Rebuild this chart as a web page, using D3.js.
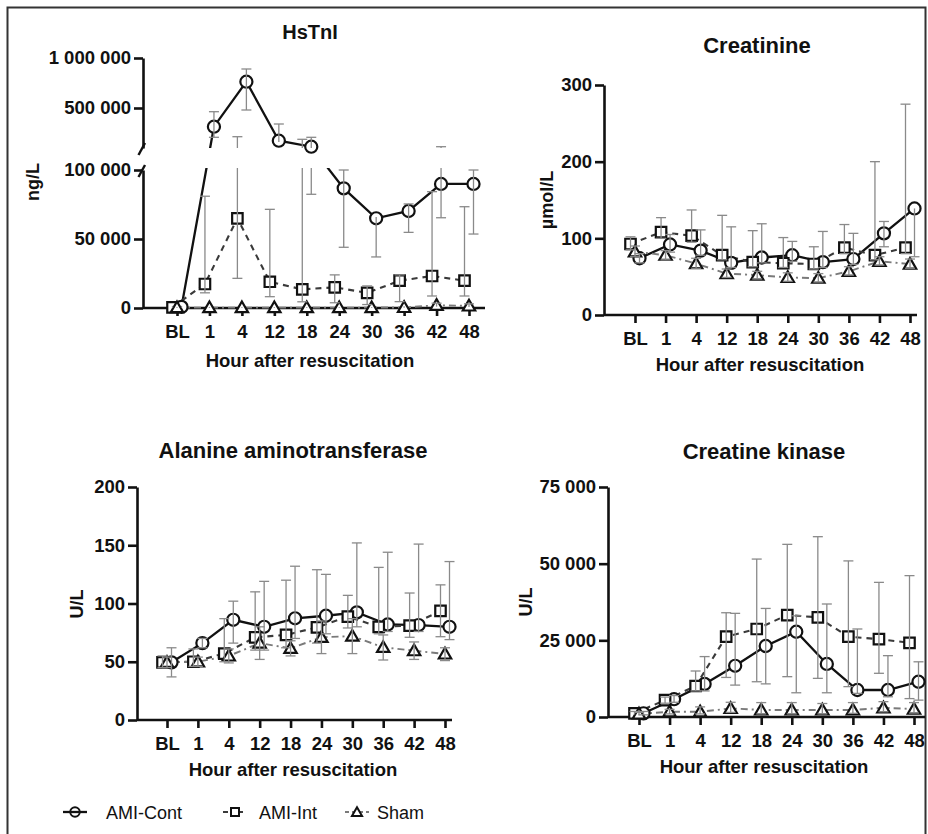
<!DOCTYPE html>
<html>
<head>
<meta charset="utf-8">
<script src="https://cdn.jsdelivr.net/npm/d3@7"></script>
<style>
  body { margin: 0; background: #fff; }
  svg text { font-family: "Liberation Sans", Arial, sans-serif; }
</style>
</head>
<body>
<svg id="chart" width="928" height="834"></svg>
<script>
const hours = ["BL", "1", "4", "12", "18", "24", "30", "36", "42", "48"];
const groups = ["AMI-Cont", "AMI-Int", "Sham"];

// HsTnI, ng/L (mean, upper and lower end of error bar)
const tnCont   = [800, 313000, 763000, 173000, 113000, 86700, 65000, 70300, 89900, 89900];
const tnContHi = [1500, 463000, 890000, 340000, 207000, 100000, 66000, 75400, 113000, 100000];
const tnContLo = [300, 207000, 480000, 160000, 82400, 44000, 37000, 54800, 65400, 53600];
const tnInt    = [500, 17400, 65000, 19000, 13500, 15000, 11000, 19800, 23200, 19800];
const tnIntHi  = [1500, 81000, 213000, 71500, 187000, 24000, 16000, 24000, 84300, 73400];
const tnIntLo  = [200, 11000, 21500, 8200, 4500, 3800, 2500, 4600, 8700, 8700];
const tnSham   = [300, 300, 300, 300, 300, 300, 300, 400, 2000, 1500];
const tnShamHi = [800, 800, 800, 800, 800, 800, 800, 1200, 3500, 3000];
const tnShamLo = [100, 100, 100, 100, 100, 100, 100, 200, 1000, 800];

// Creatinine, umol/L
const crCont   = [74, 92, 84, 68, 75, 78, 69, 73, 106.5, 139];
const crContHi = [80, 105, 111, 115, 119, 96, 109, 106.5, 122, 139];
const crContLo = [68, 82, 78, 62, 68, 70, 62, 66, 89, 76];
const crInt    = [92.6, 108, 103.5, 78, 69, 67.5, 66.5, 88, 78, 88];
const crIntHi  = [102, 127, 137, 130, 110, 101, 89, 118, 200, 275];
const crIntLo  = [85, 100, 95, 72, 63, 62, 60, 80, 72, 80];
const crSham   = [82.5, 78, 67, 54, 52, 49, 48, 57, 70, 66.5];
const crShamHi = [90, 84, 74, 60, 57, 55, 54, 63, 76, 73];
const crShamLo = [76, 72, 61, 49, 47, 44, 43, 52, 65, 61];

// Alanine aminotransferase, U/L
const altCont   = [49.5, 66, 86, 80, 87.3, 89.5, 92.4, 82, 81.5, 80];
const altContHi = [62, 70, 102, 119, 132, 125, 152, 144, 151, 136];
const altContLo = [37, 62, 66, 60, 70, 74, 80, 76, 76, 69];
const altInt    = [49.5, 50, 57, 71, 73, 79.5, 88.7, 80, 81, 93.6];
const altIntHi  = [55, 61, 87, 110, 120, 129, 107, 131, 109, 116];
const altIntLo  = [45, 46, 50, 60, 62, 66, 79, 74, 71, 71.5];
const altSham   = [49.5, 50, 55, 66, 61.5, 71, 72, 62.4, 59.5, 56.7];
const altShamHi = [54, 54, 61, 80, 68, 85, 87, 73, 67, 62];
const altShamLo = [45, 46, 49, 52, 55, 57, 57, 51.5, 52, 51];

// Creatine kinase, U/L
const ckCont   = [1200, 5800, 10800, 16700, 23150, 27800, 17300, 8800, 8800, 11500];
const ckContHi = [1800, 7000, 19700, 33800, 35400, 33000, 36850, 28700, 20000, 18000];
const ckContLo = [700, 4800, 8500, 10400, 10800, 7900, 7900, 7700, 6600, 5500];
const ckInt    = [1200, 5500, 10100, 26200, 28700, 33250, 32500, 26200, 25400, 24200];
const ckIntHi  = [1800, 6500, 15000, 34000, 51500, 56300, 58800, 50900, 43900, 46100];
const ckIntLo  = [800, 4500, 8500, 12900, 11500, 13150, 12600, 9900, 14250, 6000];
const ckSham   = [1000, 1700, 1700, 2800, 2300, 2300, 2300, 2300, 3000, 2600];
const ckShamHi = [1500, 2500, 3300, 4800, 4700, 4700, 4400, 4700, 5000, 4700];
const ckShamLo = [600, 1000, 1000, 1500, 1000, 1000, 1000, 1200, 1700, 1300];

const styles = [
  {name: groups[0], stroke: "#111", width: 2.3, dash: null, symbol: d3.symbolCircle, size: 115, dx: 4.5, legendSize: 70},
  {name: groups[1], stroke: "#3a3a3a", width: 2.1, dash: "6,5", symbol: d3.symbolSquare, size: 110, dx: -4.5, legendSize: 64},
  {name: groups[2], stroke: "#7a7a7a", width: 1.9, dash: "7,4,2,4", symbol: d3.symbolTriangle, size: 66, dx: 0, legendSize: 44}
];

const fmt = v => d3.format(",")(v).replace(/,/g, " ");
const svg = d3.select("#chart");

svg.append("rect")
   .attr("x", 7.5).attr("y", 7.5)
   .attr("width", 918).attr("height", 860)
   .attr("fill", "none")
   .attr("stroke", "#333")
   .attr("stroke-width", 2);

function styleAxis(a, fontSize) {
  a.selectAll(".domain").attr("stroke", "#111").attr("stroke-width", 2.6);
  a.selectAll(".tick line").attr("stroke", "#111").attr("stroke-width", 2.6);
  a.selectAll(".tick text")
    .attr("fill", "#111")
    .style("font-size", fontSize + "px")
    .style("font-weight", "bold");
}

function drawPanel(p) {
  const g = svg.append("g");
  const x = d3.scalePoint().domain(hours).range(p.xRange);

  // y axes (one or two segments)
  p.axes.forEach(ax => {
    const a = g.append("g")
      .attr("transform", `translate(${p.axisX},0)`)
      .call(d3.axisLeft(ax.scale).tickValues(ax.ticks).tickFormat(fmt).tickSize(9).tickSizeOuter(0).tickPadding(3));
    styleAxis(a, 18.5);
  });

  // x axis
  const base = p.y(0);
  g.append("line")
   .attr("x1", p.axisX).attr("x2", p.xEnd)
   .attr("y1", base).attr("y2", base)
   .attr("stroke", "#111").attr("stroke-width", 2.6);
  const xa = g.append("g")
    .attr("transform", `translate(0,${base})`)
    .call(d3.axisBottom(x).tickSize(8).tickPadding(9));
  xa.select(".domain").remove();
  styleAxis(xa, 18.5);

  // titles
  g.append("text")
   .attr("x", p.titlePos[0]).attr("y", p.titlePos[1])
   .attr("text-anchor", "middle")
   .style("font-size", p.titleSize + "px").style("font-weight", "bold")
   .attr("fill", "#111")
   .text(p.title);
  g.append("text")
   .attr("x", p.xTitlePos[0]).attr("y", p.xTitlePos[1])
   .attr("text-anchor", "middle")
   .style("font-size", "18.5px").style("font-weight", "bold")
   .attr("fill", "#111")
   .text("Hour after resuscitation");
  g.append("text")
   .attr("transform", `translate(${p.unitPos[0]},${p.unitPos[1]}) rotate(-90)`)
   .attr("text-anchor", "middle")
   .attr("dominant-baseline", "central")
   .style("font-size", "18px").style("font-weight", "bold")
   .attr("fill", "#111")
   .text(p.unit);

  // clip regions (HsTnI has a broken axis)
  const clips = p.clips.map((c, i) => {
    if (!c) return null;
    const id = `clip-${p.id}-${i}`;
    svg.append("clipPath").attr("id", id)
       .append("rect")
       .attr("x", p.axisX + 1).attr("y", c[0])
       .attr("width", p.xEnd - p.axisX + 20).attr("height", c[1] - c[0]);
    return `url(#${id})`;
  });

  const line = d3.line().x(d => d.x).y(d => d.y);

  const pts = p.data.map((s, si) => hours.map((h, i) => ({
    x: x(h) + styles[si].dx,
    y: p.y(s[0][i]),
    hi: p.y(s[1][i]),
    lo: p.y(s[2][i])
  })));

  // connecting lines
  clips.forEach(clip => {
    pts.forEach((ps, si) => {
      const st = styles[si];
      g.append("path")
       .datum(ps)
       .attr("d", line)
       .attr("fill", "none")
       .attr("stroke", st.stroke)
       .attr("stroke-width", st.width)
       .attr("stroke-dasharray", st.dash)
       .attr("clip-path", clip);
    });
  });

  // markers
  pts.forEach((ps, si) => {
    const st = styles[si];
    g.selectAll(null)
     .data(ps)
     .enter()
     .append("path")
     .attr("transform", d => `translate(${d.x},${d.y + (st.symbol === d3.symbolTriangle ? 1 : 0)})`)
     .attr("d", d3.symbol().type(st.symbol).size(st.size))
     .attr("fill", "#fff")
     .attr("stroke", "#111")
     .attr("stroke-width", 2.2);
  });

  // error bars
  clips.forEach(clip => {
    pts.forEach(ps => {
      const eb = g.append("g")
        .attr("stroke", "#8a8a8a")
        .attr("stroke-width", 1.3)
        .attr("clip-path", clip);
      ps.forEach(d => {
        eb.append("line").attr("x1", d.x).attr("x2", d.x).attr("y1", d.hi).attr("y2", d.lo);
        if (Math.abs(d.hi - d.y) > 1.5)
          eb.append("line").attr("x1", d.x - 5).attr("x2", d.x + 5).attr("y1", d.hi).attr("y2", d.hi);
        if (Math.abs(d.lo - d.y) > 1.5)
          eb.append("line").attr("x1", d.x - 5).attr("x2", d.x + 5).attr("y1", d.lo).attr("y2", d.lo);
      });
    });
  });

  if (p.after) p.after(g);
}

// HsTnI: broken y axis
const tnLow = d3.scaleLinear().domain([0, 100000]).range([308, 170]);
const tnHigh = d3.scaleLinear().domain([100000, 1000000]).range([148, 58]);
const tnY = v => v <= 100000 ? tnLow(v) : tnHigh(v);

drawPanel({
  id: "tn", title: "HsTnI", titleSize: 20, unit: "ng/L",
  axisX: 143, xRange: [177, 469], xEnd: 485,
  y: tnY,
  axes: [{scale: tnLow, ticks: [0, 50000, 100000]}, {scale: tnHigh, ticks: [500000, 1000000]}],
  clips: [[168, 330], [40, 148]],
  titlePos: [310, 39], xTitlePos: [310, 367], unitPos: [33, 182],
  data: [[tnCont, tnContHi, tnContLo], [tnInt, tnIntHi, tnIntLo], [tnSham, tnShamHi, tnShamLo]],
  after: g => {
    // axis break marks
    g.selectAll(".brk")
     .data([[138.5, 155, 145, 143], [138.5, 177, 145, 165]])
     .enter()
     .append("line")
     .attr("x1", d => d[0]).attr("y1", d => d[1])
     .attr("x2", d => d[2]).attr("y2", d => d[3])
     .attr("stroke", "#111").attr("stroke-width", 2.4);
  }
});

const crY = d3.scaleLinear().domain([0, 300]).range([315, 85]);
drawPanel({
  id: "cr", title: "Creatinine", titleSize: 22, unit: "µmol/L",
  axisX: 604, xRange: [635, 910], xEnd: 917,
  y: crY,
  axes: [{scale: crY, ticks: [0, 100, 200, 300]}],
  clips: [null],
  titlePos: [757, 53], xTitlePos: [760, 371], unitPos: [547, 200],
  data: [[crCont, crContHi, crContLo], [crInt, crIntHi, crIntLo], [crSham, crShamHi, crShamLo]]
});

const altY = d3.scaleLinear().domain([0, 200]).range([720, 487]);
drawPanel({
  id: "alt", title: "Alanine aminotransferase", titleSize: 22, unit: "U/L",
  axisX: 137, xRange: [167, 445], xEnd: 452,
  y: altY,
  axes: [{scale: altY, ticks: [0, 50, 100, 150, 200]}],
  clips: [null],
  titlePos: [293, 458], xTitlePos: [293, 776], unitPos: [77, 604],
  data: [[altCont, altContHi, altContLo], [altInt, altIntHi, altIntLo], [altSham, altShamHi, altShamLo]]
});

const ckY = d3.scaleLinear().domain([0, 75000]).range([717, 487]);
drawPanel({
  id: "ck", title: "Creatine kinase", titleSize: 22, unit: "U/L",
  axisX: 608, xRange: [639, 914], xEnd: 925,
  y: ckY,
  axes: [{scale: ckY, ticks: [0, 25000, 50000, 75000]}],
  clips: [null],
  titlePos: [764, 459], xTitlePos: [764, 773], unitPos: [526, 602],
  data: [[ckCont, ckContHi, ckContLo], [ckInt, ckIntHi, ckIntLo], [ckSham, ckShamHi, ckShamLo]]
});

// legend
const legendX = [75, 235, 357];
const legendTextX = [106, 259, 377];
const legend = svg.append("g").attr("transform", "translate(0,812)");
styles.forEach((st, i) => {
  legend.append("line")
    .attr("x1", legendX[i] - 12).attr("x2", legendX[i] + 12)
    .attr("y1", 0).attr("y2", 0)
    .attr("stroke", st.stroke)
    .attr("stroke-width", st.width)
    .attr("stroke-dasharray", i === 0 ? null : (i === 1 ? "5,4,2,4" : "4,3"));
  legend.append("path")
    .attr("transform", `translate(${legendX[i]},${i === 2 ? 1 : 0})`)
    .attr("d", d3.symbol().type(st.symbol).size(st.legendSize))
    .attr("fill", i === 0 ? "none" : "#fff")
    .attr("stroke", "#111")
    .attr("stroke-width", 2);
  legend.append("text")
    .attr("x", legendTextX[i]).attr("y", 6.5)
    .style("font-size", "18px")
    .attr("fill", "#111")
    .text(st.name);
});
</script>
</body>
</html>
